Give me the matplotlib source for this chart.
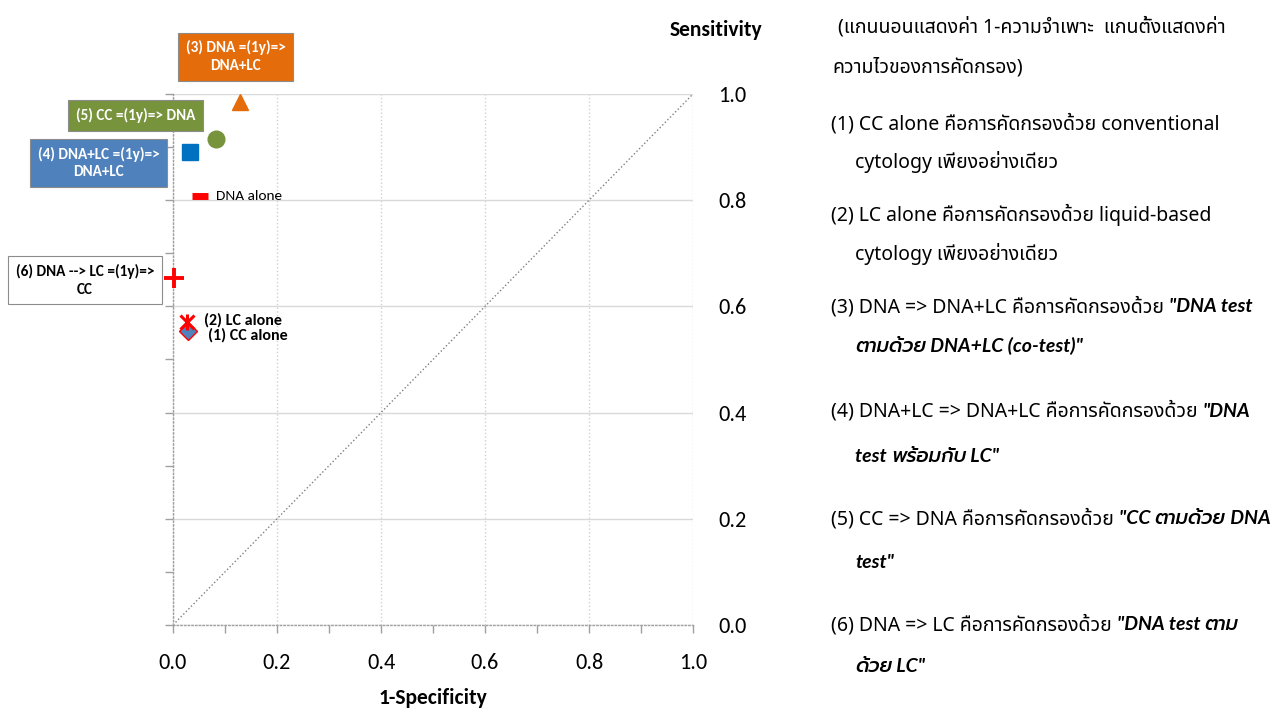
import numpy as np
import matplotlib
matplotlib.use("Agg")
import matplotlib.pyplot as plt

# ---- データ ----
labels = [
    "(1) CC alone",
    "(2) LC alone",
    "(3) DNA =(1y)=>\nDNA+LC",
    "(4) DNA+LC =(1y)=>\nDNA+LC",
    "(5) CC =(1y)=> DNA",
    "(6) DNA --> LC =(1y)=>\nCC",
    "DNA alone",
]
one_minus_spec = [0.029, 0.027, 0.129, 0.033, 0.083, 0.002, 0.052]
sensitivity = [0.554, 0.571, 0.985, 0.891, 0.915, 0.653, 0.808]

x_ticks = [0.0, 0.2, 0.4, 0.6, 0.8, 1.0]
y_ticks = [0.0, 0.2, 0.4, 0.6, 0.8, 1.0]

note_lines = [
    [("(แกนนอนแสดงค่า 1-ความจำเพาะ  แกนตั้งแสดงค่า", "n")],
    [("ความไวของการคัดกรอง)", "n")],
    [("(1) CC alone คือการคัดกรองด้วย conventional", "n")],
    [("cytology เพียงอย่างเดียว", "n")],
    [("(2) LC alone คือการคัดกรองด้วย liquid-based", "n")],
    [("cytology เพียงอย่างเดียว", "n")],
    [("(3) DNA => DNA+LC คือการคัดกรองด้วย ", "n"), ('"DNA test', "bi")],
    [('ตามด้วย DNA+LC (co-test)"', "bi")],
    [("(4) DNA+LC => DNA+LC คือการคัดกรองด้วย ", "n"), ('"DNA', "bi")],
    [('test พร้อมกับ LC"', "bi")],
    [("(5) CC => DNA คือการคัดกรองด้วย ", "n"), ('"CC ตามด้วย DNA', "bi")],
    [('test"', "bi")],
    [("(6) DNA => LC คือการคัดกรองด้วย ", "n"), ('"DNA test ตาม', "bi")],
    [('ด้วย LC"', "bi")],
]

# ---- スタイル ----
W, H = 1278, 711
chart_font = ["Carlito", "DejaVu Sans"]
thai_font = ["Noto Sans", "Noto Sans Thai", "DejaVu Sans"]

markers = [
    dict(marker="D", ms=9, mfc="#4f81bd", mec="red", mew=1),
    dict(marker="x", ms=10, mfc="none", mec="red", mew=2.2),
    dict(marker="^", ms=11, mfc="#e46c0a", mec="#e46c0a", mew=1),
    dict(marker="s", ms=12, mfc="#0070c0", mec="#0070c0", mew=1),
    dict(marker="o", ms=12, mfc="#77933c", mec="#77933c", mew=1),
    dict(marker="+", ms=14, mfc="none", mec="red", mew=2.8),
    dict(marker="_", ms=11, mfc="none", mec="red", mew=5),
]
# ラベル位置（点からのオフセット, pt）
label_style = [
    dict(xytext=(14, -3.5), ha="left", bbox=None, color="black", weight="bold", size=11.5),
    dict(xytext=(12, 1), ha="left", bbox=None, color="black", weight="bold", size=11.5),
    dict(xytext=(-3, 32.5), ha="center", bbox="#e46c0a", color="white", weight="bold", size=11),
    dict(xytext=(-66, -8), ha="center", bbox="#4f81bd", color="white", weight="bold", size=11),
    dict(xytext=(-58, 17), ha="center", bbox="#77933c", color="white", weight="bold", size=11),
    dict(xytext=(-64, -1.5), ha="center", bbox="white", color="black", weight="bold", size=11),
    dict(xytext=(11.5, 0), ha="left", bbox=None, color="black", weight="normal", size=11),
]


def split_thai(text):
    """タイ文字とそれ以外に分割（空白はラテン側に含める）"""
    parts = []
    for c in text:
        is_thai = "\u0e00" <= c <= "\u0e7f"
        if parts and parts[-1][1] == is_thai:
            parts[-1][0] += c
        else:
            parts.append([c, is_thai])
    return parts


fig = plt.figure(figsize=(W / 100, H / 100), dpi=100)
ax = fig.add_axes([173 / W, 1 - 625 / H, 520 / W, 531 / H])
ax.set_xlim(0, 1)
ax.set_ylim(0, 1)

# 軸・グリッド
ax.set_xticks(x_ticks)
ax.set_yticks(y_ticks)
ax.set_xticks(np.arange(0.1, 1.0, 0.2), minor=True)
ax.set_yticks(np.arange(0.1, 1.0, 0.2), minor=True)
ax.xaxis.set_major_formatter("{x:.1f}")
ax.yaxis.set_major_formatter("{x:.1f}")
ax.yaxis.grid(True, which="major", color="#d9d9d9", lw=1, ls="-")
ax.xaxis.grid(True, which="major", color="#d0d0d0", lw=1, ls=":")
ax.set_axisbelow(True)
for s in ["top", "right"]:
    ax.spines[s].set_visible(False)
for s in ["left", "bottom"]:
    ax.spines[s].set_linestyle(":")
    ax.spines[s].set_color("#a0a0a0")
    ax.spines[s].set_linewidth(1)
ax.tick_params(axis="both", which="both", length=6, width=1, color="#a0a0a0",
               labelsize=16, labelcolor="black")
ax.tick_params(axis="x", pad=14)
ax.tick_params(axis="y", which="both", left=True, right=False,
               labelleft=False, labelright=True, pad=12)
for lab in ax.get_xticklabels() + ax.get_yticklabels():
    lab.set_family(chart_font)

ax.set_xlabel("1-Specificity", fontsize=15.5, fontweight="bold", family=chart_font, va="center")
ax.xaxis.set_label_coords(0.5, (625 - 698) / 531)
ax.set_ylabel("Sensitivity", fontsize=15.5, fontweight="bold", family=chart_font,
              rotation=0, ha="center", va="center")
ax.yaxis.set_label_coords((716 - 173) / 520, (625 - 30) / 531)

# 対角線
ax.plot([0, 1], [0, 1], ls=":", color="#808080", lw=1)

# 点
for i in range(len(labels)):
    ax.plot(one_minus_spec[i], sensitivity[i], ls="none", clip_on=False, zorder=5, **markers[i])
    if i == 1:
        ax.plot(one_minus_spec[i], sensitivity[i], ls="none", marker="|", ms=11,
                mec="red", mew=2.2, clip_on=False, zorder=5)

for i, lab in enumerate(labels):
    st = label_style[i]
    bbox = None
    if st["bbox"] is not None:
        bbox = dict(boxstyle="square,pad=0.5", fc=st["bbox"], ec="#8c8c8c", lw=0.8)
    ax.annotate(lab, xy=(one_minus_spec[i], sensitivity[i]), xytext=st["xytext"],
                textcoords="offset points", ha=st["ha"], va="center", multialignment="center",
                color=st["color"], fontweight=st["weight"], fontsize=st["size"],
                family=chart_font, bbox=bbox, linespacing=1.35, zorder=6,
                annotation_clip=False)

# 右側の説明文（通常体と太字斜体を続けて配置）
note_x = [838, 832, 831, 855, 831, 855, 831, 855, 831, 855, 831, 855, 831, 855]
note_y = [27, 68, 124, 162, 215, 254, 307, 346, 411, 457, 519, 563, 625, 667]
renderer = fig.canvas.get_renderer()
for line, px, py in zip(note_lines, note_x, note_y):
    x = px / W
    for text, style in line:
        if style == "bi":
            pieces = [(p, dict(family=["Prompt"], fontweight=500) if th else
                       dict(family=["Lato"], fontweight="bold"))
                      for p, th in split_thai(text)]
        else:
            pieces = [(text, dict(family=thai_font))]
        for p, extra in pieces:
            kw = dict(fontsize=14, va="center", ha="left", color="black")
            if style == "bi":
                kw["fontstyle"] = "italic"
            kw.update(extra)
            t = fig.text(x, 1 - py / H, p, **kw)
            x = t.get_window_extent(renderer).x1 / W

fig.savefig("out.png", dpi=100)
